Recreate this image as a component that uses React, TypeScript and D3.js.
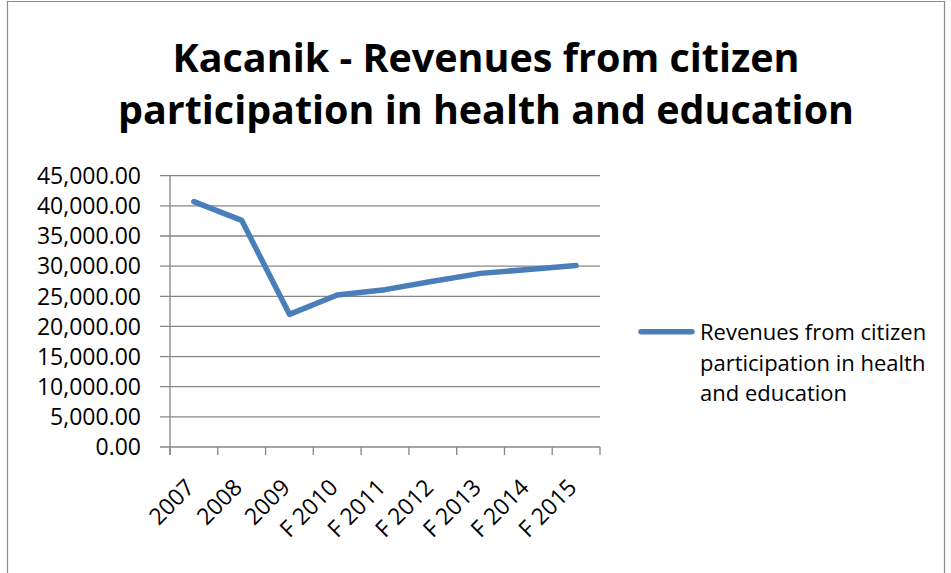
import React, { useEffect, useRef } from 'react';
import * as d3 from 'd3';

const categories = ['2007', '2008', '2009', 'F 2010', 'F 2011', 'F 2012', 'F 2013', 'F 2014', 'F 2015'];
const revenues = [40700, 37600, 22000, 25200, 26100, 27500, 28800, 29450, 30100];
const yTicks = [0, 5000, 10000, 15000, 20000, 25000, 30000, 35000, 40000, 45000];
const titleLines = ['Kacanik - Revenues from citizen', 'participation in health and education'];
const legendLines = ['Revenues from citizen', 'participation in health', 'and education'];

const FONT = "'Open Sans', 'Liberation Sans', sans-serif";

export default function App() {
    const ref = useRef<SVGSVGElement>(null);

    useEffect(() => {
        const width = 951;
        const height = 573;
        const plot = { left: 170, right: 600, top: 175.7, bottom: 447 };

        const svg = d3.select(ref.current);
        svg.selectAll('*').remove();

        svg.append('rect').attr('width', width).attr('height', height).attr('fill', '#fff');

        // chart frame
        svg.append('path')
            .attr('d', `M7.5,${height} V1.5 H944.5 V${height}`)
            .attr('fill', 'none')
            .attr('stroke', '#8c8c8c')
            .attr('stroke-width', 1.2);

        // title
        svg.append('g')
            .selectAll('text')
            .data(titleLines)
            .enter()
            .append('text')
            .attr('x', 486)
            .attr('y', (d, i) => 72 + i * 52)
            .attr('text-anchor', 'middle')
            .attr('font-family', FONT)
            .attr('font-weight', 'bold')
            .attr('font-size', 40)
            .attr('textLength', (d, i) => (i === 0 ? 627 : 736))
            .attr('lengthAdjust', 'spacingAndGlyphs')
            .text(d => d);

        const xScale = d3.scaleBand<string>()
            .domain(categories)
            .range([plot.left, plot.right]);

        const yScale = d3.scaleLinear()
            .domain([0, 45000])
            .range([plot.bottom, plot.top]);

        // gridlines + y tick marks
        svg.append('g')
            .selectAll('line')
            .data(yTicks)
            .enter()
            .append('line')
            .attr('x1', plot.left - 10)
            .attr('x2', plot.right)
            .attr('y1', d => yScale(d))
            .attr('y2', d => yScale(d))
            .attr('stroke', '#868686')
            .attr('stroke-width', 1.3);

        // y axis line
        svg.append('line')
            .attr('x1', plot.left).attr('x2', plot.left)
            .attr('y1', plot.top).attr('y2', plot.bottom + 8)
            .attr('stroke', '#868686')
            .attr('stroke-width', 1.3);

        // x tick marks at band edges
        const edges = categories.map(c => xScale(c) as number).concat([plot.right]);
        svg.append('g')
            .selectAll('line')
            .data(edges)
            .enter()
            .append('line')
            .attr('x1', d => d).attr('x2', d => d)
            .attr('y1', plot.bottom).attr('y2', plot.bottom + 8)
            .attr('stroke', '#868686')
            .attr('stroke-width', 1.3);

        // y labels
        const fmt = d3.format(',.2f');
        svg.append('g')
            .selectAll('text')
            .data(yTicks)
            .enter()
            .append('text')
            .attr('x', 141)
            .attr('y', d => yScale(d))
            .attr('dy', '0.36em')
            .attr('text-anchor', 'end')
            .attr('font-family', FONT)
            .attr('font-size', 23)
            .attr('fill', '#000')
            .text(d => fmt(d));

        // x labels
        const band = xScale.bandwidth();
        svg.append('g')
            .selectAll('text')
            .data(categories)
            .enter()
            .append('text')
            .attr('transform', d => `translate(${(xScale(d) as number) + band / 2 + 2},${plot.bottom + 42}) rotate(-45)`)
            .attr('text-anchor', 'end')
            .attr('font-family', FONT)
            .attr('font-size', 23)
            .attr('fill', '#000')
            .text(d => d);

        // series line
        const lineGenerator = d3.line<number>()
            .x((d, i) => (xScale(categories[i]) as number) + band / 2)
            .y(d => yScale(d));

        svg.append('path')
            .attr('d', lineGenerator(revenues) as string)
            .attr('fill', 'none')
            .attr('stroke', '#4a7ebb')
            .attr('stroke-width', 5.5)
            .attr('stroke-linejoin', 'round')
            .attr('stroke-linecap', 'round');

        // legend
        svg.append('line')
            .attr('x1', 641).attr('x2', 692)
            .attr('y1', 331.7).attr('y2', 331.7)
            .attr('stroke', '#4a7ebb')
            .attr('stroke-width', 5.5)
            .attr('stroke-linecap', 'round');

        svg.append('g')
            .selectAll('text')
            .data(legendLines)
            .enter()
            .append('text')
            .attr('x', 700)
            .attr('y', (d, i) => 340 + i * 30.5)
            .attr('font-family', FONT)
            .attr('font-size', 22)
            .attr('fill', '#000')
            .text(d => d);
    }, []);

    return (
        <svg
            ref={ref}
            width={951}
            height={573}
            style={{ position: 'absolute', left: 0, top: 0 }}
        />
    );
}
